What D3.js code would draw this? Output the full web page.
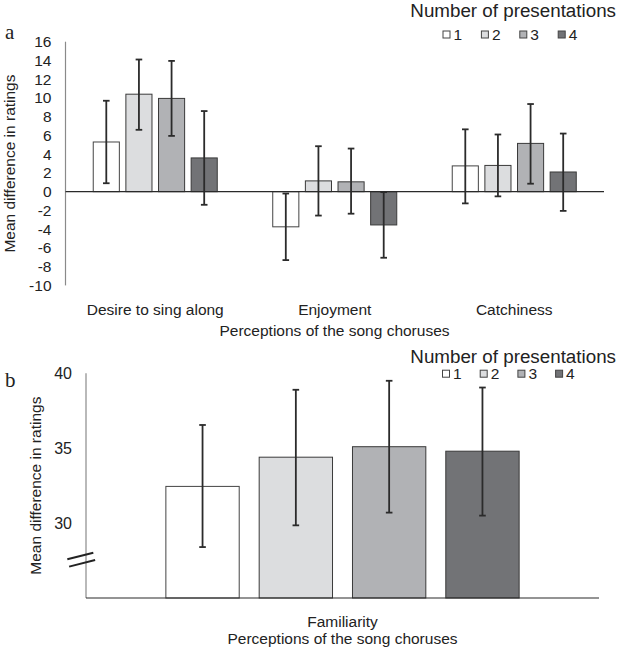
<!DOCTYPE html>
<html>
<head>
<meta charset="utf-8">
<script src="https://cdn.jsdelivr.net/npm/d3@7"></script>
<style>
  html, body { margin: 0; padding: 0; background: #fff; }
  svg { display: block; font-family: "Liberation Sans", Arial, sans-serif; }
</style>
</head>
<body>
<svg id="chart" width="619" height="649"></svg>
<script>
// ---------- data ----------
const series = ["1", "2", "3", "4"];
const colors = ["#ffffff", "#dcdddf", "#b1b2b5", "#727376"];

// Panel a
const categoriesA = ["Desire to sing along", "Enjoyment", "Catchiness"];
const meansA = [
  [5.3, 10.4, 9.95, 3.6],
  [-3.75, 1.15, 1.05, -3.55],
  [2.75, 2.8, 5.15, 2.1]
];
const errHighA = [
  [9.7, 14.1, 13.95, 8.6],
  [-0.2, 4.85, 4.6, -0.05],
  [6.65, 6.1, 9.35, 6.2]
];
const errLowA = [
  [0.9, 6.6, 5.95, -1.4],
  [-7.3, -2.55, -2.35, -7.05],
  [-1.25, -0.5, 0.85, -2.05]
];
const ticksA = [16, 14, 12, 10, 8, 6, 4, 2, 0, -2, -4, -6, -8, -10];

// Panel b
const categoriesB = ["Familiarity"];
const meansB = [[32.45, 34.4, 35.1, 34.8]];
const errHighB = [[36.55, 38.9, 39.5, 39.05]];
const errLowB = [[28.4, 29.85, 30.7, 30.5]];
const ticksB = [40, 35, 30];

const yTitle = "Mean difference in ratings";
const xTitle = "Perceptions of the song choruses";
const legendTitle = "Number of presentations";

// ---------- drawing ----------
const svg = d3.select("#chart");
const errColor = "#2b2b2b";

function panel(opts) {
  const g = svg.append("g");
  const x0 = d3.scaleBand().domain(opts.categories).range(opts.xRange).padding(0);
  const x1 = d3.scaleBand().domain(series).range([0, x0.bandwidth()])
    .paddingInner(opts.padInner).paddingOuter(opts.padOuter);
  const y = d3.scaleLinear().domain(opts.yDomain).range(opts.yRange);

  // y axis line
  g.append("line")
    .attr("x1", opts.xRange[0]).attr("x2", opts.xRange[0])
    .attr("y1", y(opts.yDomain[1])).attr("y2", y(opts.yDomain[0]))
    .attr("stroke", "#8a8a8a").attr("stroke-width", 1.2);

  // tick labels
  g.selectAll(".tick").data(opts.ticks).enter().append("text")
    .attr("x", opts.xRange[0] - opts.tickGap)
    .attr("y", d => y(d))
    .attr("dy", "0.35em")
    .attr("text-anchor", "end")
    .attr("font-size", opts.tickSize)
    .attr("fill", "#222")
    .text(d => d);

  // bars
  const groups = g.selectAll(".grp").data(opts.categories).enter().append("g")
    .attr("transform", d => `translate(${x0(d)},0)`);

  groups.each(function(cat, ci) {
    const gg = d3.select(this);
    series.forEach((s, si) => {
      const v = opts.means[ci][si];
      const base = opts.baseValue;
      gg.append("rect")
        .attr("x", x1(s))
        .attr("width", x1.bandwidth())
        .attr("y", Math.min(y(v), y(base)))
        .attr("height", Math.abs(y(v) - y(base)))
        .attr("fill", colors[si])
        .attr("stroke", si === 0 ? "#444" : "#3a3a3a")
        .attr("stroke-width", 1);
    });
  });

  // baseline
  g.append("line")
    .attr("x1", opts.xRange[0]).attr("x2", opts.xRange[1])
    .attr("y1", y(opts.baseValue)).attr("y2", y(opts.baseValue))
    .attr("stroke", "#2a2a2a").attr("stroke-width", 1.2);

  // error bars
  groups.each(function(cat, ci) {
    const gg = d3.select(this);
    series.forEach((s, si) => {
      const cx = x1(s) + x1.bandwidth() / 2;
      const hi = opts.errHigh[ci][si], lo = opts.errLow[ci][si];
      gg.append("line").attr("x1", cx).attr("x2", cx)
        .attr("y1", y(hi)).attr("y2", y(lo))
        .attr("stroke", errColor).attr("stroke-width", 1.8);
      [hi, lo].forEach(v => {
        gg.append("line").attr("x1", cx - opts.cap).attr("x2", cx + opts.cap)
          .attr("y1", y(v)).attr("y2", y(v))
          .attr("stroke", errColor).attr("stroke-width", 1.8);
      });
    });
  });

  // category labels
  g.selectAll(".cat").data(opts.categories).enter().append("text")
    .attr("x", d => x0(d) + x0.bandwidth() / 2)
    .attr("y", opts.catY)
    .attr("text-anchor", "middle")
    .attr("font-size", 15.5)
    .attr("fill", "#222")
    .text(d => d);

  // x title
  g.append("text")
    .attr("x", opts.xTitleX).attr("y", opts.xTitleY)
    .attr("text-anchor", "middle")
    .attr("font-size", 15.5).attr("fill", "#222")
    .text(xTitle);

  // y title
  g.append("text")
    .attr("transform", `translate(${opts.yTitleX},${(opts.yRange[0] + opts.yRange[1]) / 2}) rotate(-90)`)
    .attr("text-anchor", "middle")
    .attr("dy", "0.35em")
    .attr("font-size", 15.5).attr("fill", "#222")
    .text(yTitle);

  // panel letter
  g.append("text")
    .attr("x", opts.letterX).attr("y", opts.letterY)
    .attr("font-family", "'Liberation Serif', 'Times New Roman', serif")
    .attr("font-size", 21).attr("fill", "#222")
    .text(opts.letter);

  // legend
  g.append("text")
    .attr("x", 616).attr("y", opts.legendY)
    .attr("text-anchor", "end")
    .attr("font-size", 18.8).attr("fill", "#222")
    .text(legendTitle);
  series.forEach((s, si) => {
    const lx = opts.legendX + si * opts.legendStep;
    g.append("rect")
      .attr("x", lx).attr("y", opts.legendY + opts.rowOffset)
      .attr("width", 7).attr("height", 7)
      .attr("fill", colors[si]).attr("stroke", "#444").attr("stroke-width", 1);
    g.append("text")
      .attr("x", lx + 10.5).attr("y", opts.legendY + opts.rowOffset + 9)
      .attr("font-size", 15.5).attr("fill", "#222")
      .text(s);
  });

  return { x0, y, g };
}

// Panel a
panel({
  categories: categoriesA, means: meansA, errHigh: errHighA, errLow: errLowA,
  ticks: ticksA, xRange: [65.5, 604], yDomain: [-10, 16], yRange: [285.4, 41.7],
  padInner: 0.2, padOuter: 0.85, baseValue: 0, tickSize: 15.5, tickGap: 14,
  cap: 3.3, catY: 315, xTitleX: 334.5, xTitleY: 336, yTitleX: 9.5,
  letter: "a", letterX: 5, letterY: 39, legendY: 17, legendX: 443, legendStep: 38.4,
  rowOffset: 14
});

// Panel b
const pb = panel({
  categories: categoriesB, means: meansB, errHigh: errHighB, errLow: errLowB,
  ticks: ticksB, xRange: [86, 599], yDomain: [25, 40], yRange: [598, 373.3],
  padInner: 0.214, padOuter: 0.856, baseValue: 25, tickSize: 16, tickGap: 14,
  cap: 3.3, catY: 626.5, xTitleX: 342.5, xTitleY: 643.5, yTitleX: 35.5,
  letter: "b", letterX: 5, letterY: 387, legendY: 362.7, legendX: 442.5, legendStep: 37.7,
  rowOffset: 7.5
});

// axis break marks on panel b
[0, 7.3].forEach(off => {
  pb.g.append("line")
    .attr("x1", 67.3 + off * 0.25).attr("y1", 559.3 + off)
    .attr("x2", 93.3 + off * 0.25).attr("y2", 552.7 + off)
    .attr("stroke", "#222").attr("stroke-width", 2);
});
</script>
</body>
</html>
